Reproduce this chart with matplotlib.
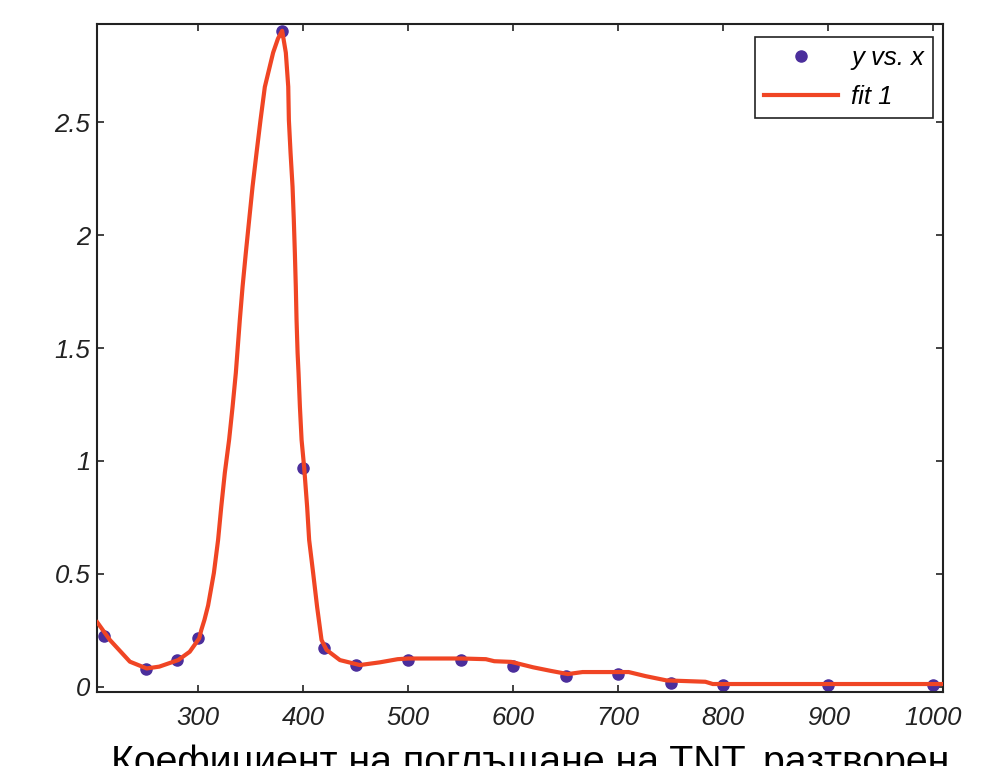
import numpy as np
import matplotlib
matplotlib.use("Agg")
import matplotlib.pyplot as plt

# measured points (y vs. x)
x_data = [210, 250, 280, 300, 380, 400, 420, 450, 500, 550, 600, 650, 700, 750, 800, 900, 1000]
y_data = [0.223, 0.078, 0.118, 0.217, 2.905, 0.969, 0.173, 0.095, 0.120, 0.120, 0.092, 0.049,
          0.058, 0.015, 0.007, 0.008, 0.007]

# fitted curve (fit 1)
x_fit = [204, 216, 235, 251, 263, 281, 292, 301, 303, 306, 309.5, 315, 319, 322, 325.4,
         329.5, 332.8, 335.9, 338, 339.7, 342.3, 345.4, 348.6, 351.8, 355.6, 359.4, 363.5,
         371.4, 376, 380, 383.5, 385.8, 386.4, 388, 389.9, 391.1, 392.1, 393, 393.7, 394.7,
         395.6, 396.9, 398.5, 401, 403.8, 405.7, 409.5, 413.3, 417.5, 422.3, 435, 454, 473,
         490, 500, 551, 574, 582, 598, 606, 619, 636, 652, 666, 710, 726, 746, 783, 790, 1009]
y_fit = [0.285, 0.207, 0.111, 0.081, 0.089, 0.118, 0.155, 0.214, 0.251, 0.296, 0.36, 0.504,
         0.65, 0.796, 0.947, 1.094, 1.24, 1.39, 1.52, 1.625, 1.771, 1.921, 2.068, 2.214, 2.364,
         2.51, 2.656, 2.808, 2.87, 2.905, 2.808, 2.657, 2.51, 2.364, 2.214, 2.067, 1.921,
         1.771, 1.625, 1.478, 1.39, 1.24, 1.093, 0.969, 0.796, 0.65, 0.504, 0.353, 0.207,
         0.163, 0.118, 0.096, 0.108, 0.122, 0.125, 0.125, 0.122, 0.113, 0.11, 0.101, 0.086,
         0.07, 0.056, 0.065, 0.065, 0.047, 0.028, 0.022, 0.012, 0.012]

x_ticks = [300, 400, 500, 600, 700, 800, 900, 1000]
x_tick_labels = ['300', '400', '500', '600', '700', '800', '900', '1000']
y_ticks = [0, 0.5, 1, 1.5, 2, 2.5]
y_tick_labels = ['0', '0.5', '1', '1.5', '2', '2.5']

plt.rcParams['font.family'] = ['Liberation Sans', 'DejaVu Sans']

fig = plt.figure(figsize=(9.81, 7.66), dpi=100)
ax = fig.add_axes([0.0992, 0.097, 0.8618, 0.8717])

ax.plot(x_data, y_data, 'o', color='#4b2e9c', markersize=8, label='y vs. x', zorder=2)
ax.plot(x_fit, y_fit, '-', color='#f04524', linewidth=3, label='fit 1', zorder=3)

ax.set_xlim(204, 1009)
ax.set_ylim(-0.022, 2.935)
ax.set_xticks(x_ticks)
ax.set_xticklabels(x_tick_labels, fontstyle='italic', fontsize=18.5)
ax.set_yticks(y_ticks)
ax.set_yticklabels(y_tick_labels, fontstyle='italic', fontsize=18.5)
ax.tick_params(axis='both', direction='in', length=5, width=1.2, top=True, right=True,
               colors='#222222')
ax.tick_params(axis='x', pad=10)
ax.tick_params(axis='y', pad=5)
for sp in ax.spines.values():
    sp.set_linewidth(1.5)
    sp.set_color('#222222')

ax.set_xlabel('Коефициент на поглъщане на TNT, разтворен', fontsize=28.3, labelpad=11)
ax.xaxis.label.set_x(0.512)

leg = ax.legend(loc='upper right', bbox_to_anchor=(0.9885, 0.9805), borderaxespad=0,
                numpoints=1, handlelength=2.9, handletextpad=0.5, borderpad=0.35,
                labelspacing=0.57, fancybox=False, framealpha=1, edgecolor='#222222',
                prop={'style': 'italic', 'size': 18.5})
leg.get_frame().set_linewidth(1.2)

fig.savefig('out.png', dpi=100)
